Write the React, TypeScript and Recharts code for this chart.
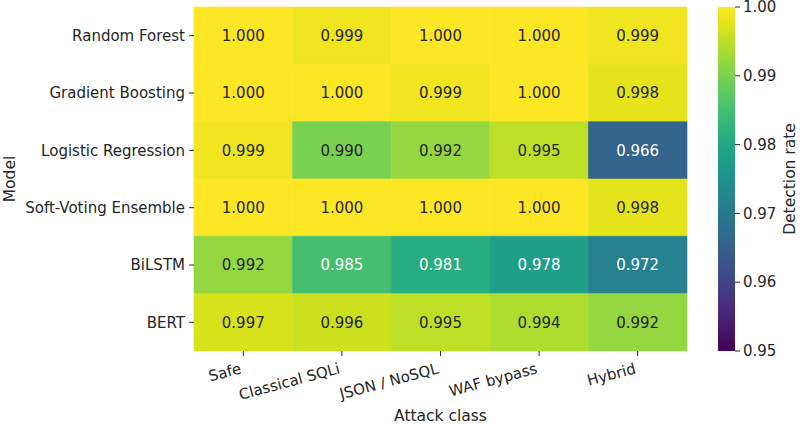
import React from 'react';
import { ScatterChart, Scatter, XAxis, YAxis, ReferenceArea, Label } from 'recharts';

// Rows (models) and columns (attack classes) of the heatmap
const models = [
  'Random Forest',
  'Gradient Boosting',
  'Logistic Regression',
  'Soft-Voting Ensemble',
  'BiLSTM',
  'BERT',
];
const attackClasses = ['Safe', 'Classical SQLi', 'JSON / NoSQL', 'WAF bypass', 'Hybrid'];

// Detection rate per attack class, one array per model
const randomForest = [1.0, 0.999, 1.0, 1.0, 0.999];
const gradientBoosting = [1.0, 1.0, 0.999, 1.0, 0.998];
const logisticRegression = [0.999, 0.99, 0.992, 0.995, 0.966];
const softVotingEnsemble = [1.0, 1.0, 1.0, 1.0, 0.998];
const biLSTM = [0.992, 0.985, 0.981, 0.978, 0.972];
const bert = [0.997, 0.996, 0.995, 0.994, 0.992];

const rateRows = [randomForest, gradientBoosting, logisticRegression, softVotingEnsemble, biLSTM, bert];

// Colour scale limits and colorbar ticks
const vmin = 0.95;
const vmax = 1.0;
const colorbarTicks = [0.95, 0.96, 0.97, 0.98, 0.99, 1.0];

const FONT = '"DejaVu Sans", Verdana, sans-serif';
const INK = '#262626';

// Viridis colormap sampled every 0.05
const VIRIDIS = [
  '#440154', '#471365', '#482475', '#463480', '#414487', '#3b528b', '#355f8d',
  '#2f6c8e', '#2a788e', '#25848e', '#21918c', '#1e9c89', '#22a884', '#2fb47c',
  '#44bf70', '#5ec962', '#7ad151', '#9bd93c', '#bddf26', '#dfe318', '#fde725',
];

const hexToRgb = (h: string) => [1, 3, 5].map((i) => parseInt(h.slice(i, i + 2), 16));

function viridisRgb(t: number): number[] {
  const c = Math.min(1, Math.max(0, t)) * (VIRIDIS.length - 1);
  const i = Math.min(VIRIDIS.length - 2, Math.floor(c));
  const f = c - i;
  const a = hexToRgb(VIRIDIS[i]);
  const b = hexToRgb(VIRIDIS[i + 1]);
  return a.map((v, k) => Math.round(v + (b[k] - v) * f));
}

const rgbStr = (c: number[]) => `rgb(${c[0]},${c[1]},${c[2]})`;

function luminance(c: number[]): number {
  const lin = c.map((v) => {
    const s = v / 255;
    return s <= 0.03928 ? s / 12.92 : Math.pow((s + 0.055) / 1.055, 2.4);
  });
  return 0.2126 * lin[0] + 0.7152 * lin[1] + 0.0722 * lin[2];
}

type Cell = { col: number; row: number; value: number; fill: string; text: string };

const cells: Cell[] = [];
rateRows.forEach((vals, row) => {
  vals.forEach((value, col) => {
    const rgb = viridisRgb((value - vmin) / (vmax - vmin));
    cells.push({
      col,
      row,
      value,
      fill: rgbStr(rgb),
      text: luminance(rgb) > 0.408 ? INK : '#ffffff',
    });
  });
});

// Points along the colorbar, one per tick level
const colorbarPoints = colorbarTicks.map((v) => ({ x: 0.5, y: v }));

const colIdx = attackClasses.map((_, i) => i);
const rowIdx = models.map((_, i) => i);

const XTick = (props: any) => {
  const { x, y, payload } = props;
  return (
    <g transform={`translate(${x - 1},${y + 17})`}>
      <text transform="rotate(-15)" textAnchor="end" fontSize={15} fill={INK} fontFamily={FONT}>
        {attackClasses[payload.value]}
      </text>
    </g>
  );
};

const YTick = (props: any) => {
  const { x, y, payload } = props;
  return (
    <text x={x} y={y} dy="0.35em" textAnchor="end" fontSize={15} fill={INK} fontFamily={FONT}>
      {models[payload.value]}
    </text>
  );
};

const CbTick = (props: any) => {
  const { x, y, payload } = props;
  return (
    <text x={x} y={y} dy="0.35em" textAnchor="start" fontSize={15} fill={INK} fontFamily={FONT}>
      {Number(payload.value).toFixed(2)}
    </text>
  );
};

const ValueMark = (props: any) => {
  const { cx, cy, payload } = props;
  return (
    <text x={cx} y={cy} dy="0.35em" textAnchor="middle" fontSize={15} fill={payload.text} fontFamily={FONT}>
      {payload.value.toFixed(3)}
    </text>
  );
};

const NoMark = () => <g />;

export default function App() {
  return (
    <div
      style={{
        position: 'absolute',
        left: 0,
        top: 0,
        width: 800,
        height: 425,
        background: '#ffffff',
        fontFamily: FONT,
      }}
    >
      <ScatterChart width={800} height={425} margin={{ top: 7, right: 113, bottom: 0, left: 0 }}>
        <XAxis
          type="number"
          dataKey="col"
          domain={[-0.5, 4.5]}
          ticks={colIdx}
          interval={0}
          height={74}
          axisLine={false}
          tickSize={5}
          tickMargin={0}
          tickLine={{ stroke: INK, strokeWidth: 1 }}
          tick={<XTick />}
        >
          <Label
            content={(p: any) => {
              const vb = p.viewBox;
              return (
                <text x={vb.x + vb.width / 2} y={421} textAnchor="middle" fontSize={15.5} fill={INK} fontFamily={FONT}>
                  Attack class
                </text>
              );
            }}
          />
        </XAxis>
        <YAxis
          type="number"
          dataKey="row"
          domain={[-0.5, 5.5]}
          reversed
          ticks={rowIdx}
          interval={0}
          width={194}
          axisLine={false}
          tickSize={5}
          tickMargin={4}
          tickLine={{ stroke: INK, strokeWidth: 1 }}
          tick={<YTick />}
        >
          <Label
            content={(p: any) => {
              const vb = p.viewBox;
              const cy = vb.y + vb.height / 2;
              return (
                <text
                  x={10}
                  y={cy}
                  transform={`rotate(-90, 10, ${cy})`}
                  textAnchor="middle"
                  dominantBaseline="central"
                  fontSize={15.5}
                  fill={INK}
                  fontFamily={FONT}
                >
                  Model
                </text>
              );
            }}
          />
        </YAxis>
        {cells.map((c) => (
          <ReferenceArea
            key={`${c.row}-${c.col}`}
            x1={c.col - 0.5}
            x2={c.col + 0.5}
            y1={c.row - 0.5}
            y2={c.row + 0.5}
            fill={c.fill}
            fillOpacity={1}
            stroke={c.fill}
            strokeWidth={0.6}
          />
        ))}
        <Scatter data={cells} isAnimationActive={false} shape={<ValueMark />} />
      </ScatterChart>

      <div style={{ position: 'absolute', left: 718, top: 0 }}>
        <ScatterChart width={82} height={425} margin={{ top: 7, right: 0, bottom: 74, left: 0 }}>
          <defs>
            <linearGradient id="viridisBar" x1="0" y1="1" x2="0" y2="0">
              {VIRIDIS.map((c, i) => (
                <stop key={i} offset={`${(i / (VIRIDIS.length - 1)) * 100}%`} stopColor={c} />
              ))}
            </linearGradient>
          </defs>
          <XAxis type="number" dataKey="x" domain={[0, 1]} hide />
          <YAxis
            type="number"
            dataKey="y"
            orientation="right"
            domain={[vmin, vmax]}
            ticks={colorbarTicks}
            interval={0}
            width={65}
            axisLine={false}
            tickSize={5}
            tickMargin={3}
            tickLine={{ stroke: INK, strokeWidth: 1 }}
            tick={<CbTick />}
          >
            <Label
              content={(p: any) => {
                const vb = p.viewBox;
                const cy = vb.y + vb.height / 2;
                const lx = vb.x + 55;
                return (
                  <text
                    x={lx}
                    y={cy}
                    transform={`rotate(-90, ${lx}, ${cy})`}
                    textAnchor="middle"
                    dominantBaseline="central"
                    fontSize={15.5}
                    fill={INK}
                    fontFamily={FONT}
                  >
                    Detection rate
                  </text>
                );
              }}
            />
          </YAxis>
          <ReferenceArea x1={0} x2={1} y1={vmin} y2={vmax} fill="url(#viridisBar)" fillOpacity={1} />
          <Scatter data={colorbarPoints} isAnimationActive={false} shape={<NoMark />} />
        </ScatterChart>
      </div>
    </div>
  );
}
